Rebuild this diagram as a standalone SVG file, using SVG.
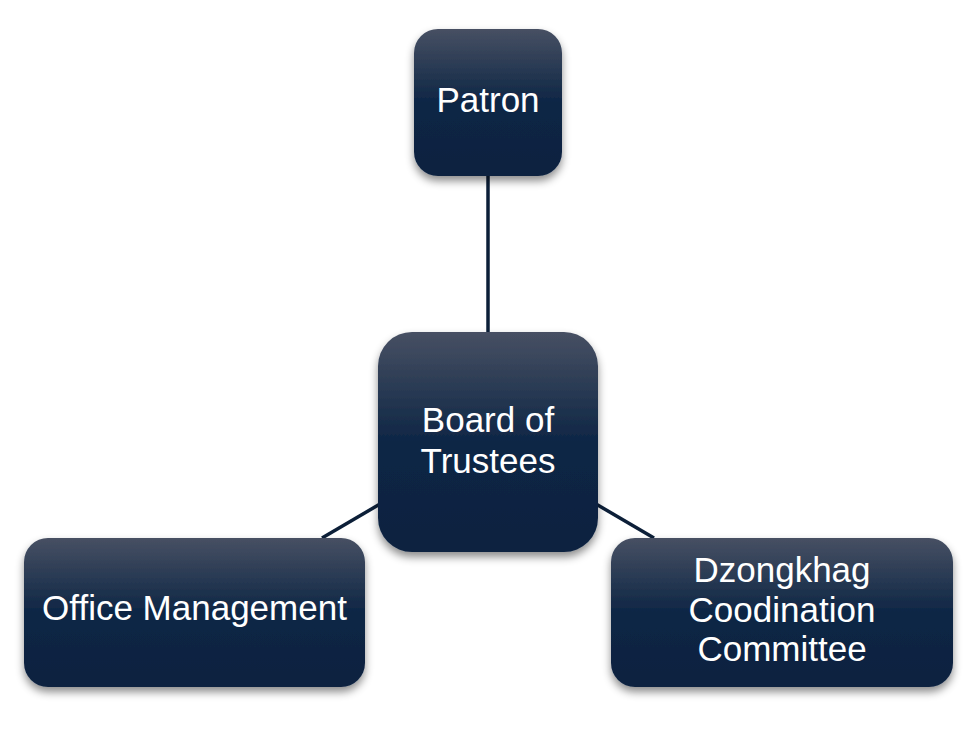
<svg xmlns="http://www.w3.org/2000/svg" width="973" height="729" viewBox="0 0 973 729">
  <defs>
    <linearGradient id="g" x1="0" y1="0" x2="0" y2="1">
      <stop offset="0" stop-color="#475063"/>
      <stop offset="0.5" stop-color="#0e2645"/>
      <stop offset="1" stop-color="#0b2240"/>
    </linearGradient>
    <filter id="sh" x="-20%" y="-20%" width="140%" height="150%">
      <feDropShadow dx="0" dy="5" stdDeviation="4" flood-color="#000" flood-opacity="0.45"/>
    </filter>
  </defs>
  <style>
    .box{fill:url(#g);filter:url(#sh)}
    .t{fill:#fff;font-family:"Liberation Sans","Open Sans",sans-serif;font-size:35px;text-anchor:middle}
    .c{stroke:#0c1f38;stroke-width:3.5;fill:none}
  </style>
  <rect width="973" height="729" fill="#fff"/>
  <g id="connectors">
    <line class="c" x1="488" y1="176" x2="488" y2="334"/>
    <line class="c" x1="380" y1="504" x2="322" y2="538"/>
    <line class="c" x1="596" y1="504" x2="654" y2="538"/>
  </g>
  <g id="patron">
    <rect class="box" x="414" y="29" width="148" height="147" rx="24"/>
    <text class="t" x="488" y="112">Patron</text>
  </g>
  <g id="board">
    <rect class="box" x="378" y="332" width="220" height="220" rx="34"/>
    <text class="t" x="488" y="432">Board of</text>
    <text class="t" x="488" y="473">Trustees</text>
  </g>
  <g id="office">
    <rect class="box" x="24" y="538" width="341" height="149" rx="24"/>
    <text class="t" x="194.5" y="620">Office Management</text>
  </g>
  <g id="dzongkhag">
    <rect class="box" x="611" y="538" width="342" height="149" rx="24"/>
    <text class="t" x="782" y="582">Dzongkhag</text>
    <text class="t" x="782" y="622">Coodination</text>
    <text class="t" x="782" y="661">Committee</text>
  </g>
</svg>
